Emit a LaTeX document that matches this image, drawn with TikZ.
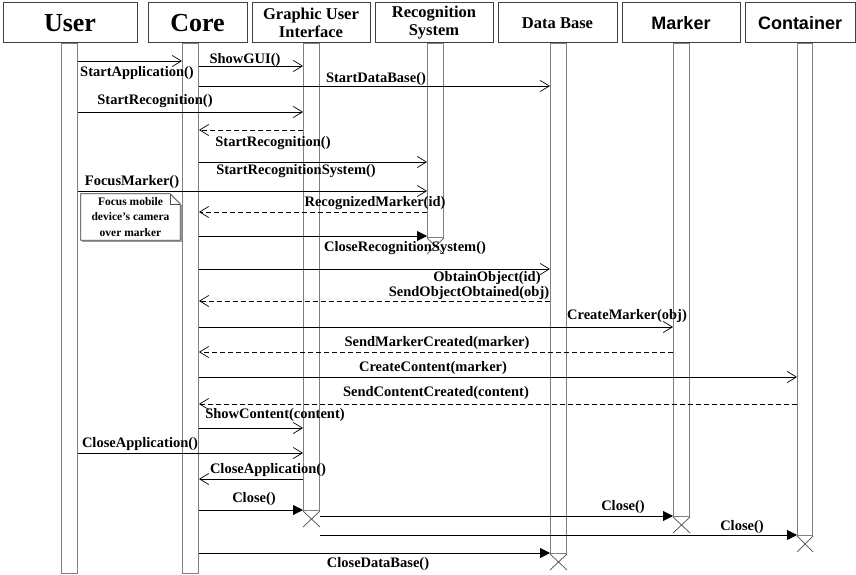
\documentclass[tikz,border=0pt]{standalone}
\usepackage{fontspec}
\setmainfont{Liberation Serif}
\newfontfamily\hsans{Liberation Sans}
\usetikzlibrary{arrows.meta,calc}
\definecolor{barcol}{gray}{0.5}
\definecolor{hdrcol}{gray}{0.25}
\begin{document}
\begin{tikzpicture}[x=1pt,y=-1pt,
  hdr/.style={draw=hdrcol,line width=1pt,inner sep=0pt,minimum height=40pt,align=center,font=\fontsize{16.5}{18}\selectfont\bfseries},
  bigh/.style={hdr,font=\fontsize{26}{28}\selectfont\bfseries},
  sansh/.style={hdr,font=\fontsize{18}{20}\selectfont\hsans\bfseries},
  lifebar/.style={draw=barcol,line width=1pt,minimum width=16pt,inner sep=0pt,anchor=north west},
  msg/.style={line width=0.8pt,-{Straight Barb[length=9pt,width=11pt,line width=0.7pt]}},
  ret/.style={msg,dash pattern=on 5pt off 3pt},
  fil/.style={line width=0.8pt,-{Triangle[length=10pt,width=10pt]}},
  xline/.style={draw=black!70,line width=0.7pt},
  lbl/.style={inner sep=0pt,font=\fontsize{14.5}{16}\selectfont\bfseries}
]
\useasboundingbox (0,0) rectangle (856,575);

% lifeline bars
\node[lifebar,minimum height=530pt] (user) at (61,43) {};
\node[lifebar,minimum height=530pt] (core) at (182,43) {};
\node[lifebar,minimum height=467pt] (gui) at (303,43) {};
\node[lifebar,minimum height=194pt] (recog) at (427,43) {};
\node[lifebar,minimum height=510pt] (db) at (550,43) {};
\node[lifebar,minimum height=473pt] (marker) at (673,43) {};
\node[lifebar,minimum height=492pt,minimum width=15pt] (cont) at (797,43) {};

% headers
\node[bigh,minimum width=134pt,fill=white] (huser) at (70,23) {User};
\node[bigh,minimum width=99pt,fill=white] (hcore) at (197.5,23) {Core};
\node[hdr,minimum width=118pt,fill=white] (hgui) at (311,23) {Graphic User\\Interface};
\node[hdr,minimum width=118pt,fill=white] (hrecog) at (434,23) {Recognition\\System};
\node[hdr,minimum width=119pt,fill=white] (hdb) at (557.5,23) {Data Base};
\node[sansh,minimum width=118pt,fill=white] (hmarker) at (681,23) {Marker};
\node[sansh,minimum width=110pt,fill=white] (hcont) at (800,23) {Container};

% destruction marks
\foreach \b in {recog,gui,db,marker,cont}{
  \draw[xline] (\b.south west) -- ($(\b.south east)+(0,16)$)
               (\b.south east) -- ($(\b.south west)+(0,16)$);
}

% messages
\draw[msg] (user.east |- 0,61) -- (core.west |- 0,61);
\draw[msg] (core.east |- 0,66) -- (gui.west |- 0,66);
\draw[msg] (core.east |- 0,86) -- (db.west |- 0,86);
\draw[msg] (user.east |- 0,112) -- (gui.west |- 0,112);
\draw[ret] (gui.west |- 0,130) -- (core.east |- 0,130);
\draw[msg] (core.east |- 0,162) -- (recog.west |- 0,162);
\draw[msg] (user.east |- 0,191) -- (recog.west |- 0,191);
\draw[ret] (recog.west |- 0,212) -- (core.east |- 0,212);
\draw[fil] (core.east |- 0,236) -- (recog.west |- 0,236);
\draw[msg] (core.east |- 0,269) -- (db.west |- 0,269);
\draw[ret] (db.west |- 0,301) -- (core.east |- 0,301);
\draw[msg] (core.east |- 0,327) -- (marker.west |- 0,327);
\draw[ret] (marker.west |- 0,352) -- (core.east |- 0,352);
\draw[msg] (core.east |- 0,377) -- (cont.west |- 0,377);
\draw[ret] (cont.west |- 0,404) -- (core.east |- 0,404);
\draw[msg] (core.east |- 0,428) -- (gui.west |- 0,428);
\draw[msg] (user.east |- 0,453) -- (gui.west |- 0,453);
\draw[msg] (gui.west |- 0,479) -- (core.east |- 0,479);
\draw[fil] (core.east |- 0,510) -- (gui.west |- 0,510);
\draw[fil] (gui.east |- 0,516) -- (marker.west |- 0,516);
\draw[fil] (gui.east |- 0,535) -- (cont.west |- 0,535);
\draw[fil] (core.east |- 0,553) -- (db.west |- 0,553);

% labels
\node[lbl] (l1) at (137,73) {StartApplication()};
\node[lbl] (l2) at (245,60) {ShowGUI()};
\node[lbl] (l3) at (376,79) {StartDataBase()};
\node[lbl] (l4) at (155,101) {StartRecognition()};
\node[lbl] (l5) at (273,143) {StartRecognition()};
\node[lbl] (l6) at (296,171) {StartRecognitionSystem()};
\node[lbl] (l7) at (132,182) {FocusMarker()};
\node[lbl] (l8) at (375,203) {RecognizedMarker(id)};
\node[lbl] (l9) at (405,248) {CloseRecognitionSystem()};
\node[lbl] (l10) at (487,278) {ObtainObject(id)};
\node[lbl] (l11) at (469,293) {SendObjectObtained(obj)};
\node[lbl] (l12) at (627,316) {CreateMarker(obj)};
\node[lbl] (l13) at (437,343) {SendMarkerCreated(marker)};
\node[lbl] (l14) at (433,368) {CreateContent(marker)};
\node[lbl] (l15) at (436,393) {SendContentCreated(content)};
\node[lbl] (l16) at (275,415) {ShowContent(content)};
\node[lbl] (l17) at (140,444) {CloseApplication()};
\node[lbl] (l18) at (268,470) {CloseApplication()};
\node[lbl] (l19) at (254,499) {Close()};
\node[lbl] (l20) at (623,507) {Close()};
\node[lbl] (l21) at (742,527) {Close()};
\node[lbl] (l22) at (378,564) {CloseDataBase()};

% note
\node[inner sep=0pt,minimum width=99pt,minimum height=46pt,align=center,
      font=\fontsize{11.5}{15.5}\selectfont\bfseries] (note) at (130.5,217)
      {Focus mobile\\device’s camera\\over marker};
\draw[line width=0.8pt,draw=black!80] (note.north west) -- ($(note.north east)+(-10,0)$)
  -- ($(note.north east)+(0,10)$) -- (note.south east) -- (note.south west) -- cycle;
\draw[line width=0.6pt,draw=black!70] ($(note.north east)+(-10,0)$) -- ($(note.north east)+(-10,10)$)
  -- ($(note.north east)+(0,10)$);
\draw[line width=1pt,draw=black!40] ($(note.north east)+(1.2,11)$) -- ($(note.south east)+(1.2,1.2)$)
  -- ($(note.south west)+(1.2,1.2)$);
\end{tikzpicture}
\end{document}
